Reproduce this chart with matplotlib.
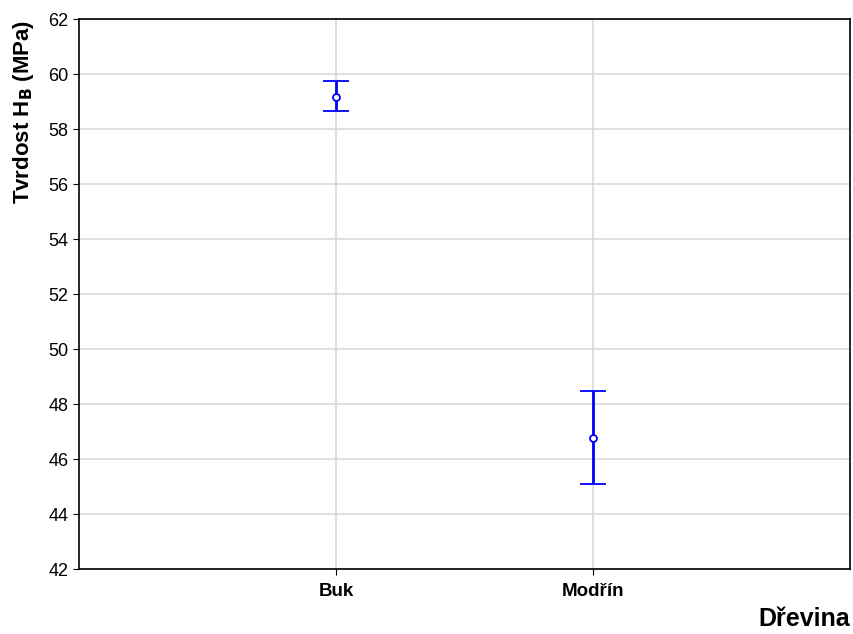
import numpy as np
import matplotlib
matplotlib.use('Agg')
import matplotlib.pyplot as plt

# data
druhy = ['Buk', 'Modřín']
prumer = [59.17, 46.77]
horni = [59.75, 48.47]
dolni = [58.65, 45.10]

plt.rcParams['font.family'] = ['Liberation Sans', 'DejaVu Sans']

fig = plt.figure(figsize=(8.54, 6.34), dpi=100)
ax = fig.add_axes([0.0925, 0.1025, 0.9025, 0.8675])

x = np.arange(1, len(druhy) + 1)
yerr = [np.array(prumer) - np.array(dolni), np.array(horni) - np.array(prumer)]
ax.errorbar(x, prumer, yerr=yerr, fmt='o', color='#0000ff', mfc='white', mec='#0000ff',
            ms=5, mew=1.3, elinewidth=2, capsize=9.4, capthick=2, zorder=3)

ax.set_xlim(0, 3)
ax.set_ylim(42, 62)
ax.set_yticks(np.arange(42, 63, 2))
ax.set_xticks(x)
ax.set_xticklabels(druhy, fontweight='bold', fontsize=13.5)
ax.tick_params(axis='y', labelsize=13, length=4, color='black')
ax.tick_params(axis='x', length=4, pad=6, color='black')
ax.grid(True, color='#d9d9d9', linewidth=1.2)
ax.set_axisbelow(True)
for s in ax.spines.values():
    s.set_linewidth(1.2)

# y label sits at the top left, not centred
fig.text(0.027, 0.968, 'Tvrdost H$_\\mathbf{B}$ (MPa)', rotation=90, ha='center', va='top',
         fontsize=16, fontweight='bold')
fig.text(0.995, 0.005, 'Dřevina', ha='right', va='bottom', fontsize=18, fontweight='bold')

fig.savefig('out.png', dpi=100)
